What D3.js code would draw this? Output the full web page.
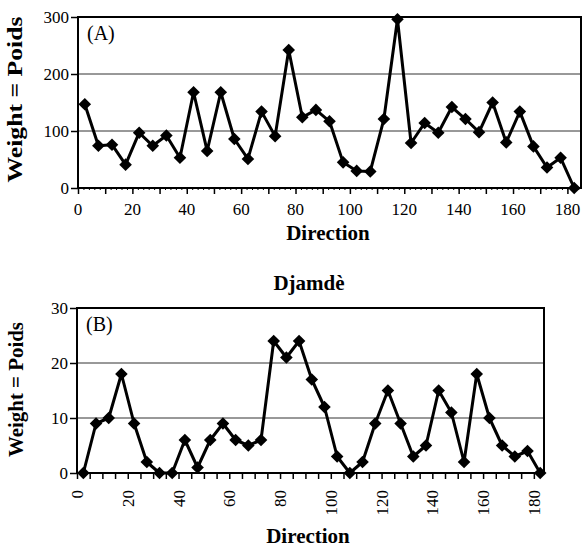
<!DOCTYPE html>
<html><head><meta charset="utf-8">
<script src="https://cdn.jsdelivr.net/npm/d3@7"></script>
<style>body{margin:0;background:#fff}svg{display:block}text{font-family:"Liberation Serif",serif;fill:#000}</style>
</head><body><svg id="c" width="584" height="547"></svg>
<script>
const directions = [2.5,7.5,12.5,17.5,22.5,27.5,32.5,37.5,42.5,47.5,52.5,57.5,62.5,67.5,72.5,77.5,82.5,87.5,92.5,97.5,102.5,107.5,112.5,117.5,122.5,127.5,132.5,137.5,142.5,147.5,152.5,157.5,162.5,167.5,172.5,177.5,182.5];
const weightA = [147,74,76,41,97,74,92,53,168,65,168,86,51,134,91,242,124,137,117,45,30,29,121,296,79,114,97,142,121,98,150,80,134,73,36,53,0];
const weightB = [0,9,10,18,9,2,0,0,6,1,6,9,6,5,6,24,21,24,17,12,3,0,2,9,15,9,3,5,15,11,2,18,10,5,3,4,0];
const xTicksLabels = [0,20,40,60,80,100,120,140,160,180];
const yTicksA = [0,100,200,300];
const yTicksB = [0,10,20,30];
const titleB = "Djamdè";
const yLabel = "Weight = Poids";
const xLabel = "Direction";

const svg = d3.select("#c");
const FF = "Liberation Serif";

function panel(o){
  const x = d3.scaleLinear().domain(o.xd).range(o.xr);
  const y = d3.scaleLinear().domain(o.yd).range(o.yr);
  const g = svg.append("g");
  g.selectAll("line.grid").data(o.yt.slice(1,-1)).join("line")
    .attr("x1",o.xr[0]).attr("x2",o.xr[1]).attr("y1",d=>y(d)).attr("y2",d=>y(d))
    .attr("stroke","#333").attr("stroke-width",1);
  g.append("rect").attr("x",o.xr[0]).attr("y",o.yr[1]).attr("width",o.xr[1]-o.xr[0]).attr("height",o.yr[0]-o.yr[1])
    .attr("fill","none").attr("stroke","#000").attr("stroke-width",2);
  const ya = d3.axisLeft(y).tickValues(o.yt).tickSize(7).tickPadding(2).tickFormat(d3.format("d"));
  const yg = g.append("g").attr("transform",`translate(${o.xr[0]},0)`).call(ya);
  yg.select(".domain").remove();
  yg.selectAll("line").attr("stroke-width",1.5);
  yg.selectAll("text").attr("font-family",FF).style("font-size","17px");
  if(o.minor){
    const xm = d3.axisBottom(x).tickValues(d3.range(0,o.xd[1],o.minor)).tickSize(2).tickFormat("");
    const xmg = g.append("g").attr("transform",`translate(0,${o.yr[0]})`).call(xm);
    xmg.select(".domain").remove();
    xmg.selectAll("line").attr("stroke-width",1);
  }
  const xa = d3.axisBottom(x).tickValues(d3.range(0,o.xd[1],o.major)).tickSize(6).tickFormat("");
  const xg = g.append("g").attr("transform",`translate(0,${o.yr[0]})`).call(xa);
  xg.select(".domain").remove();
  xg.selectAll("line").attr("stroke-width",1.5);
  if(o.rot){
    g.selectAll("text.xl").data(xTicksLabels).join("text")
      .attr("transform",d=>`translate(${x(d)+6},${o.yr[0]+17}) rotate(-90)`)
      .attr("text-anchor","end").attr("font-family",FF).style("font-size","17px").text(d=>d);
  } else {
    g.selectAll("text.xl").data(xTicksLabels).join("text")
      .attr("x",d=>x(d)).attr("y",o.yr[0]+27)
      .attr("text-anchor","middle").attr("font-family",FF).style("font-size","17px").text(d=>d);
  }
  const line = d3.line().x((d,i)=>x(directions[i])).y(d=>y(d));
  g.append("path").datum(o.vals).attr("d",line).attr("fill","none").attr("stroke","#000").attr("stroke-width",3).attr("stroke-linejoin","round");
  const s = 6.3;
  g.selectAll("path.m").data(o.vals).join("path")
    .attr("d",(d,i)=>{const cx=x(directions[i]),cy=y(d);return `M${cx},${cy-s}L${cx+s},${cy}L${cx},${cy+s}L${cx-s},${cy}Z`;})
    .attr("fill","#000");
  g.append("text").attr("x",o.xr[0]+9).attr("y",o.yr[1]+23).attr("font-family",FF).style("font-size","20px").text(o.tag);
  g.append("text").attr("x",o.xlx).attr("y",o.xly).attr("text-anchor","middle").attr("font-family",FF).style("font-size","21px").style("font-weight","bold").text(xLabel);
  g.append("text").attr("transform",`translate(${o.ylx},${o.ylc}) rotate(-90)`).attr("text-anchor","middle")
    .attr("textLength",o.yll).attr("lengthAdjust","spacingAndGlyphs")
    .attr("font-family",FF).style("font-size","21px").style("font-weight","bold").text(yLabel);
}

panel({xd:[0,185],xr:[78,581],yd:[0,300],yr:[188,17],yt:yTicksA,vals:weightA,tag:"(A)",major:10,minor:2,rot:false,xlx:328,xly:240,ylx:22,ylc:99.5,yll:166});
svg.append("text").attr("x",309).attr("y",290).attr("text-anchor","middle").attr("font-family",FF).style("font-size","21px").style("font-weight","bold").text(titleB);
panel({xd:[0,184],xr:[77,544],yd:[0,30],yr:[473,308],yt:yTicksB,vals:weightB,tag:"(B)",major:5,minor:null,rot:true,xlx:308,xly:543,ylx:23,ylc:389.5,yll:135});
</script></body></html>
